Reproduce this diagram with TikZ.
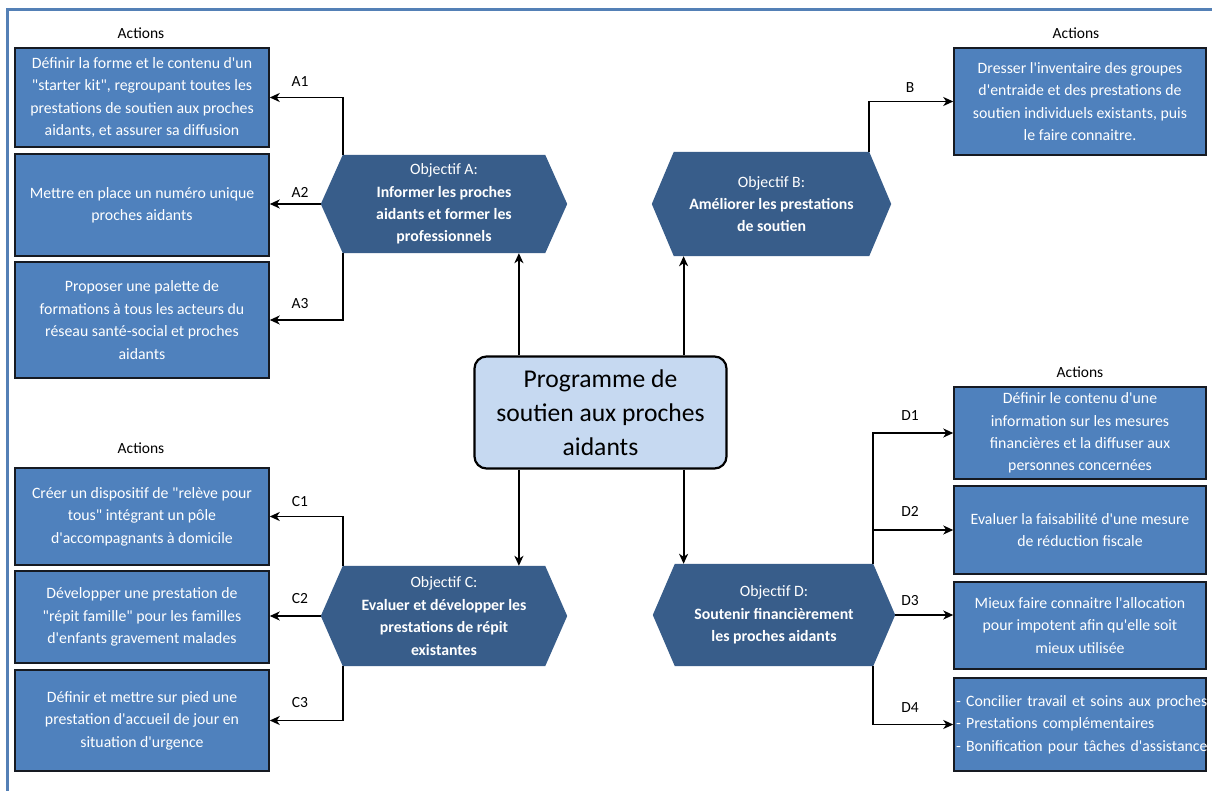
\documentclass[tikz,border=0pt]{standalone}
\usepackage{fontspec}
\setmainfont{Carlito}[Ligatures=TeXOff]
\usetikzlibrary{arrows.meta,backgrounds,calc}
\definecolor{boxblue}{RGB}{79,129,189}
\definecolor{hexblue}{RGB}{56,93,138}
\definecolor{progblue}{RGB}{198,217,241}
\definecolor{boxline}{RGB}{22,26,34}
\definecolor{framec}{RGB}{84,128,182}
\begin{document}
\begin{tikzpicture}[x=1pt,y=-1pt,
  actbox/.style={draw=boxline, line width=1.5pt, fill=boxblue, text=white, inner sep=0pt,
    align=center, font=\fontsize{15.8}{22.4}\selectfont},
  leftbox/.style={actbox, minimum width=254pt},
  rightbox/.style={actbox, minimum width=252pt},
  hexnode/.style={inner sep=0pt, text=white, align=center, font=\fontsize{15.8}{22.4}\selectfont},
  lbl/.style={font=\fontsize{15.5}{17}\selectfont, inner sep=0pt},
  arr/.style={line width=1.8pt, -{Stealth[length=10pt,width=9pt,inset=3pt]}},
  progbox/.style={draw=black, line width=2.2pt, fill=progblue, rounded corners=12pt,
    minimum width=252pt, minimum height=112pt, align=center, inner sep=0pt,
    font=\fontsize{25.6}{34}\selectfont}
]
\useasboundingbox (0,0) rectangle (1212,791);

% central node
\node[progbox] (prog) at (600.5,412.5) {Programme de\\soutien aux proches\\aidants};

% objective hexagons
\node[hexnode, minimum width=246pt, minimum height=98pt] (hA) at (444,204)
  {Objectif A:\\\textbf{Informer  les proches}\\\textbf{aidants et former les}\\\textbf{professionnels}};
\node[hexnode, minimum width=239pt, minimum height=104pt] (hB) at (771.5,204)
  {Objectif B:\\\textbf{Améliorer les prestations}\\\textbf{de soutien}};
\node[hexnode, minimum width=246pt, minimum height=100pt] (hC) at (444,616)
  {Objectif C:\\\textbf{Evaluer et développer les}\\\textbf{prestations de répit}\\\textbf{existantes}};
\node[hexnode, minimum width=242pt, minimum height=102pt] (hD) at (774,615)
  {Objectif D:\\\textbf{Soutenir financièrement}\\\textbf{les proches aidants}};

\begin{pgfonlayer}{background}
\fill[white] (0,0) rectangle (1212,791);
\draw[framec, line width=3pt] (7,791) -- (7,10) -- (1212,10);
\foreach \h in {hA,hB,hC,hD}{
  \fill[hexblue] ($(\h.north west)+(22,0)$) -- ($(\h.north east)+(-22,0)$) -- (\h.east)
    -- ($(\h.south east)+(-22,0)$) -- ($(\h.south west)+(22,0)$) -- (\h.west) -- cycle;
}
\end{pgfonlayer}

% action boxes
\node[leftbox, minimum height=99pt] (A1) at (142,97.5)
  {Définir la forme et le contenu  d'un\\"starter kit", regroupant  toutes les\\prestations de soutien aux proches\\aidants, et assurer sa diffusion};
\node[leftbox, minimum height=102pt] (A2) at (142,205)
  {Mettre  en place un numéro  unique\\proches aidants};
\node[leftbox, minimum height=116pt] (A3) at (142,320)
  {Proposer  une palette de\\formations à tous les acteurs  du\\réseau santé-social et proches\\aidants};
\node[rightbox, minimum height=107pt] (B) at (1080,101.5)
  {Dresser l'inventaire des groupes\\d'entraide et des prestations de\\soutien individuels existants, puis\\le faire connaitre.};
\node[leftbox, minimum height=97pt] (C1) at (142,516.5)
  {Créer un dispositif de "relève pour\\tous" intégrant un pôle\\d'accompagnants à domicile};
\node[leftbox, minimum height=92pt] (C2) at (142,617)
  {Développer  une prestation de\\"répit  famille" pour les familles\\d'enfants gravement malades};
\node[leftbox, minimum height=101pt] (C3) at (142,720.5)
  {Définir et mettre  sur pied une\\prestation d'accueil de jour en\\situation d'urgence};
\node[rightbox, minimum height=92pt] (D1) at (1080,433)
  {Définir le contenu  d'une\\information sur les mesures\\financières  et la diffuser aux\\personnes concernées};
\node[rightbox, minimum height=88pt] (D2) at (1080,530)
  {Evaluer la faisabilité d'une mesure\\de réduction  fiscale};
\node[rightbox, minimum height=87pt] (D3) at (1080,625.5)
  {Mieux faire connaitre  l'allocation\\pour impotent  afin qu'elle soit\\mieux utilisée};
\node[rightbox, minimum height=93pt, text width=248pt, inner xsep=2pt, align=left] (D4) at (1080,724.5)
  {\mbox{- Concilier travail et soins aux proches}\\\mbox{- Prestations complémentaires}\\\mbox{- Bonification pour tâches  d'assistance}};

% section titles
\node[lbl] (tA) at (141,33) {Actions};
\node[lbl] (tB) at (1076,33) {Actions};
\node[lbl] (tC) at (141,448) {Actions};
\node[lbl] (tD) at (1080,372) {Actions};

% connectors from programme to objectives
\coordinate (pL) at ($(prog.north west)+(45.5,0)$);
\coordinate (pR) at ($(prog.north east)+(-44,0)$);
\coordinate (qL) at ($(prog.south west)+(45.5,0)$);
\coordinate (qR) at ($(prog.south east)+(-44,0)$);
\draw[arr] (pL) -- (pL |- hA.south);
\draw[arr] (pR) -- (pR |- hB.south);
\draw[arr] (qL) -- (qL |- hC.north);
\draw[arr] (qR) -- (qR |- hD.north);

% connectors from objectives to actions
\draw[arr] ($(hA.north west)+(22,0)$) |- (A1.east);
\draw[arr] (hA.west) -- (hA.west -| A2.east);
\draw[arr] ($(hA.south west)+(22,0)$) |- (A3.east);
\draw[arr] ($(hB.north east)+(-22,0)$) |- (B.west);
\draw[arr] ($(hC.north west)+(22,0)$) |- (C1.east);
\draw[arr] (hC.west) -- (hC.west -| C2.east);
\draw[arr] ($(hC.south west)+(22,0)$) |- (C3.east);
\draw[arr] ($(hD.north east)+(-22,0)$) |- (D1.west);
\draw[arr] ($(hD.north east)+(-22,0)$) |- (D2.west);
\draw[arr] (hD.east) -- (hD.east -| D3.west);
\draw[arr] ($(hD.south east)+(-22,0)$) |- (D4.west);

% connector labels
\node[lbl] (lA1) at (300,82) {A1};
\node[lbl] (lA2) at (300,192) {A2};
\node[lbl] (lA3) at (300,304) {A3};
\node[lbl] (lB) at (910,88) {B};
\node[lbl] (lC1) at (300,502) {C1};
\node[lbl] (lC2) at (300,599) {C2};
\node[lbl] (lC3) at (300,703) {C3};
\node[lbl] (lD1) at (910,416) {D1};
\node[lbl] (lD2) at (910,511) {D2};
\node[lbl] (lD3) at (910,601) {D3};
\node[lbl] (lD4) at (910,708) {D4};
\end{tikzpicture}
\end{document}
